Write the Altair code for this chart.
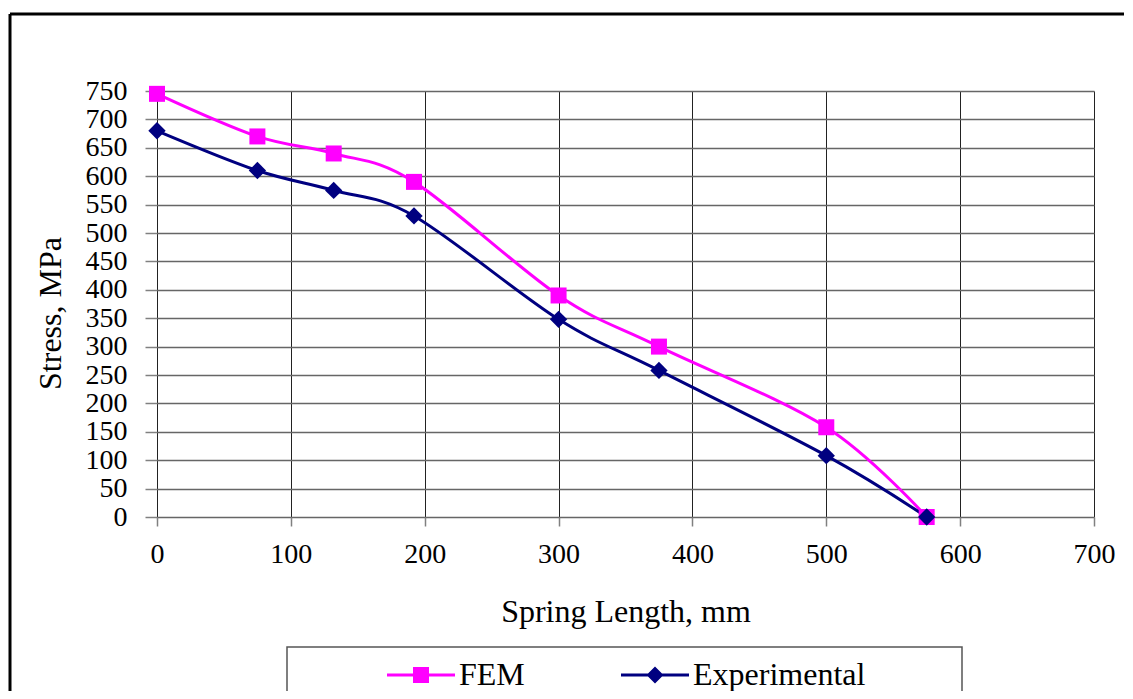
import altair as alt
import pandas as pd

FONT = "Liberation Serif"

lengths = [0, 75, 132, 192, 300, 375, 500, 575]
fem = [745, 670, 640, 590, 390, 300, 158, 0]
experimental = [680, 610, 575, 530, 348, 258, 108, 0]
series = ["FEM", "Experimental"]
colors = ["#FF00FF", "#000080"]
x_ticks = [0, 100, 200, 300, 400, 500, 600, 700]
y_ticks = list(range(0, 751, 50))

rows = []
for name, vals in zip(series, [fem, experimental]):
    for l, v in zip(lengths, vals):
        rows.append({"length": l, "stress": v, "series": name})
df = pd.DataFrame(rows)

W, H = 937, 426

x_enc = alt.X(
    "length:Q",
    scale=alt.Scale(domain=[0, 700], nice=False, zero=False),
    axis=alt.Axis(
        values=x_ticks, title="Spring Length, mm", grid=True, gridColor="#222222",
        gridWidth=1, domain=False, tickColor="#808080", tickSize=9, tickWidth=1.5,
        labelFont=FONT, labelFontSize=28, labelColor="black", labelPadding=14,
        titleFont=FONT, titleFontSize=32, titleFontWeight="normal", titleColor="black",
        titleY=104, titleBaseline="alphabetic", labelFlush=False,
    ),
)
y_enc = alt.Y(
    "stress:Q",
    scale=alt.Scale(domain=[0, 750], nice=False),
    axis=alt.Axis(
        values=y_ticks, title="Stress, MPa", grid=True, gridColor="#666666",
        gridWidth=1.3, domain=False, tickColor="#808080", tickSize=12, tickWidth=1.5,
        labelFont=FONT, labelFontSize=28, labelColor="black", labelPadding=18,
        titleFont=FONT, titleFontSize=32, titleFontWeight="normal", titleColor="black",
        titleX=-97, titleY=222, titleBaseline="alphabetic", titleAngle=-90, labelFlush=False,
    ),
)

color_scale = alt.Scale(domain=series, range=colors)

P_FEM = "M-3.4,-0.15H3.4V0.15H-3.4Z M-0.8,-0.8H0.8V0.8H-0.8Z"
P_EXP = "M-3.4,-0.15H3.4V0.15H-3.4Z M0,-0.85L0.85,0L0,0.85L-0.85,0Z"

legend = alt.Legend(
    orient="none", legendX=224, legendY=568, direction="horizontal", title=None,
    labelFont=FONT, labelFontSize=32, labelColor="black", labelLimit=400,
    symbolSize=400, symbolOffset=24, labelOffset=22, columnPadding=90, padding=0,
    symbolStrokeWidth=0, symbolOpacity=1,
)

layers = []
one = pd.DataFrame({"k": [0]})
layers.append(alt.Chart(one).mark_rule(color="black", strokeWidth=3).encode(
    x=alt.value(-147), x2=alt.value(1000), y=alt.value(-77)))
layers.append(alt.Chart(one).mark_rule(color="black", strokeWidth=3).encode(
    x=alt.value(-147), y=alt.value(-77), y2=alt.value(700)))
layers.append(alt.Chart(one).mark_rect(fill=None, stroke="#555555", strokeWidth=1.5).encode(
    x=alt.value(130), x2=alt.value(805), y=alt.value(556), y2=alt.value(700)))

marker = {"FEM": ("square", 256), "Experimental": ("diamond", 300)}
for name, col in zip(series, colors):
    base = alt.Chart(df).transform_filter(alt.datum.series == name)
    layers.append(base.mark_line(interpolate="cardinal", strokeWidth=3, color=col).encode(
        x=x_enc, y=y_enc))
for name, col in zip(series, colors):
    base = alt.Chart(df).transform_filter(alt.datum.series == name)
    shp, sz = marker[name]
    layers.append(base.mark_point(filled=True, opacity=1, size=sz, shape=shp, color=col).encode(
        x=x_enc, y=y_enc))

layers.append(alt.Chart(df).mark_point(filled=True, opacity=0, size=1).encode(
    x=x_enc, y=y_enc,
    color=alt.Color("series:N", scale=color_scale, legend=legend),
    shape=alt.Shape("series:N", scale=alt.Scale(domain=series, range=[P_FEM, P_EXP]), legend=legend),
))

chart = alt.layer(*layers).properties(
    width=W, height=H,
    autosize=alt.AutoSizeParams(type="none"),
    padding={"left": 149, "top": 83, "right": 30, "bottom": 174},
).configure_view(stroke="black", strokeWidth=3).configure(background="white")

chart.save("out.html", embed_options={"renderer": "svg", "actions": False})
